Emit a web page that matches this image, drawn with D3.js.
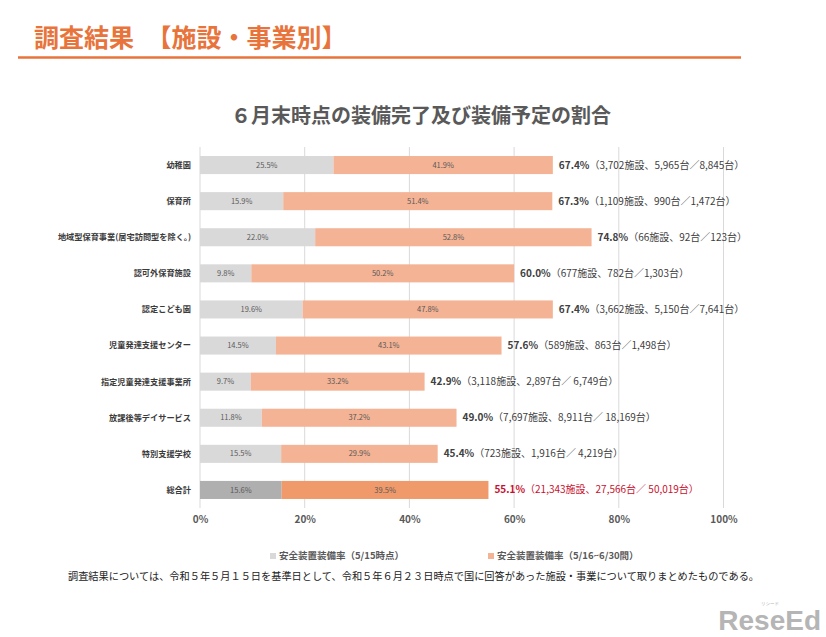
<!DOCTYPE html>
<html><head><meta charset="utf-8">
<script src="https://cdn.jsdelivr.net/npm/d3@7"></script>
<style>
body{margin:0;background:#fff;}
svg{display:block;font-family:"Noto Sans CJK JP","Noto Sans",sans-serif;}
</style></head>
<body><svg id="c" width="826" height="637"></svg>
<script>
const categories = ["幼稚園","保育所","地域型保育事業(居宅訪問型を除く。)","認可外保育施設","認定こども園","児童発達支援センター","指定児童発達支援事業所","放課後等デイサービス","特別支援学校","総合計"];
const rateMay15 = [25.5,15.9,22.0,9.8,19.6,14.5,9.7,11.8,15.5,15.6];
const rateMay16Jun30 = [41.9,51.4,52.8,50.2,47.8,43.1,33.2,37.2,29.9,39.5];
const totalRate = ["67.4%","67.3%","74.8%","60.0%","67.4%","57.6%","42.9%","49.0%","45.4%","55.1%"];
const detail = ["（3,702施設、5,965台／8,845台）","（1,109施設、990台／1,472台）","（66施設、92台／123台）","（677施設、782台／1,303台）","（3,662施設、5,150台／7,641台）","（589施設、863台／1,498台）","（3,118施設、2,897台／ 6,749台）","（7,697施設、8,911台／ 18,169台）","（723施設、1,916台／ 4,219台）","（21,343施設、27,566台／ 50,019台）"];
const xTicks = [0,20,40,60,80,100];
const seriesNames = ["安全装置装備率（5/15時点）","安全装置装備率（5/16~6/30間）"];

const svg = d3.select("#c");
const x = d3.scaleLinear().domain([0,100]).range([200,723.5]);
const y = d3.scaleBand().domain(categories).range([147,508]).paddingInner(0.5).paddingOuter(0.25);

// header
svg.append("text").attr("x",34).attr("y",47).attr("fill","#e8743b").attr("font-size",25).attr("font-weight","bold").text("調査結果　【施設・事業別】");
svg.append("line").attr("x1",18).attr("x2",741).attr("y1",57.5).attr("y2",57.5).attr("stroke","#e8743b").attr("stroke-width",2.5);

// chart title
svg.append("text").attr("x",421).attr("y",123).attr("text-anchor","middle").attr("fill","#595959").attr("font-size",20).attr("font-weight","bold").text("６月末時点の装備完了及び装備予定の割合");

// gridlines
svg.append("g").selectAll("line").data(xTicks).join("line")
  .attr("x1",d=>x(d)).attr("x2",d=>x(d)).attr("y1",147).attr("y2",508)
  .attr("stroke","#d9d9d9").attr("stroke-width",1);

// axis labels
const xAxis = d3.axisBottom(x).tickValues(xTicks).tickFormat(d=>d+"%").tickSize(0).tickPadding(8);
const gx = svg.append("g").attr("transform","translate(0,508)").call(xAxis);
gx.select(".domain").remove();
gx.selectAll("text").attr("fill","#595959").attr("font-size",10).attr("font-weight","bold").attr("font-family","'Noto Sans CJK JP',sans-serif");

// category labels
svg.append("g").selectAll("text").data(categories).join("text")
  .attr("x",191).attr("y",d=>y(d)+y.bandwidth()/2).attr("dy","0.35em")
  .attr("text-anchor","end").attr("font-size",8.2).attr("font-weight","bold").attr("fill","#3a3a3a").text(d=>d);

const isTotal = i => i===categories.length-1;
const rows = categories.map((c,i)=>({c,i,a:rateMay15[i],b:rateMay16Jun30[i]}));

// bars
const g = svg.append("g");
g.selectAll("rect.a").data(rows).join("rect").attr("class","a")
  .attr("x",x(0)).attr("y",d=>y(d.c)).attr("height",y.bandwidth())
  .attr("width",d=>x(d.a)-x(0)).attr("fill",d=>isTotal(d.i)?"#afafaf":"#d9d9d9");
g.selectAll("rect.b").data(rows).join("rect").attr("class","b")
  .attr("x",d=>x(d.a)).attr("y",d=>y(d.c)).attr("height",y.bandwidth())
  .attr("width",d=>x(d.a+d.b)-x(d.a)).attr("fill",d=>isTotal(d.i)?"#f0996a":"#f4b394");

// in-bar labels
g.selectAll("text.la").data(rows).join("text").attr("class","la")
  .attr("x",d=>(x(0)+x(d.a))/2).attr("y",d=>y(d.c)+y.bandwidth()/2).attr("dy","0.35em")
  .attr("text-anchor","middle").attr("font-size",7.5).attr("fill","#595959").text(d=>d.a.toFixed(1)+"%");
g.selectAll("text.lb").data(rows).join("text").attr("class","lb")
  .attr("x",d=>(x(d.a)+x(d.a+d.b))/2).attr("y",d=>y(d.c)+y.bandwidth()/2).attr("dy","0.35em")
  .attr("text-anchor","middle").attr("font-size",7.5).attr("fill","#595959").text(d=>d.b.toFixed(1)+"%");

// end labels
const el = g.selectAll("text.end").data(rows).join("text").attr("class","end")
  .attr("x",d=>x(d.a+d.b)+6).attr("y",d=>y(d.c)+y.bandwidth()/2).attr("dy","0.35em")
  .attr("font-size",10).attr("fill",d=>isTotal(d.i)?"#c8102e":"#404040");
el.append("tspan").attr("font-weight","bold").text(d=>totalRate[d.i]);
el.append("tspan").attr("font-size",10).text(d=>detail[d.i]);

// legend
const lg = svg.append("g");
const lx = [270,488], lc = ["#d9d9d9","#f4b394"];
seriesNames.forEach((s,i)=>{
  lg.append("rect").attr("x",lx[i]).attr("y",553).attr("width",6).attr("height",6).attr("fill",lc[i]);
  lg.append("text").attr("x",lx[i]+9).attr("y",556).attr("dy","0.35em").attr("font-size",9.5).attr("font-weight","bold").attr("fill","#595959").text(s);
});

// footnote
svg.append("text").attr("x",68).attr("y",576).attr("dy","0.35em").attr("font-size",10.2).attr("fill","#222").text("調査結果については、令和５年５月１５日を基準日として、令和５年６月２３日時点で国に回答があった施設・事業について取りまとめたものである。");

// logo
svg.append("text").attr("x",821).attr("y",630).attr("text-anchor","end").attr("font-size",28).attr("font-weight","bold").attr("fill","#b5b5b5").attr("font-family","'Liberation Sans Narrow','Liberation Sans',sans-serif").text("ReseEd");
svg.append("text").attr("x",761).attr("y",605).attr("font-size",4.5).attr("fill","#b5b5b5").text("リシード");
</script></body></html>
